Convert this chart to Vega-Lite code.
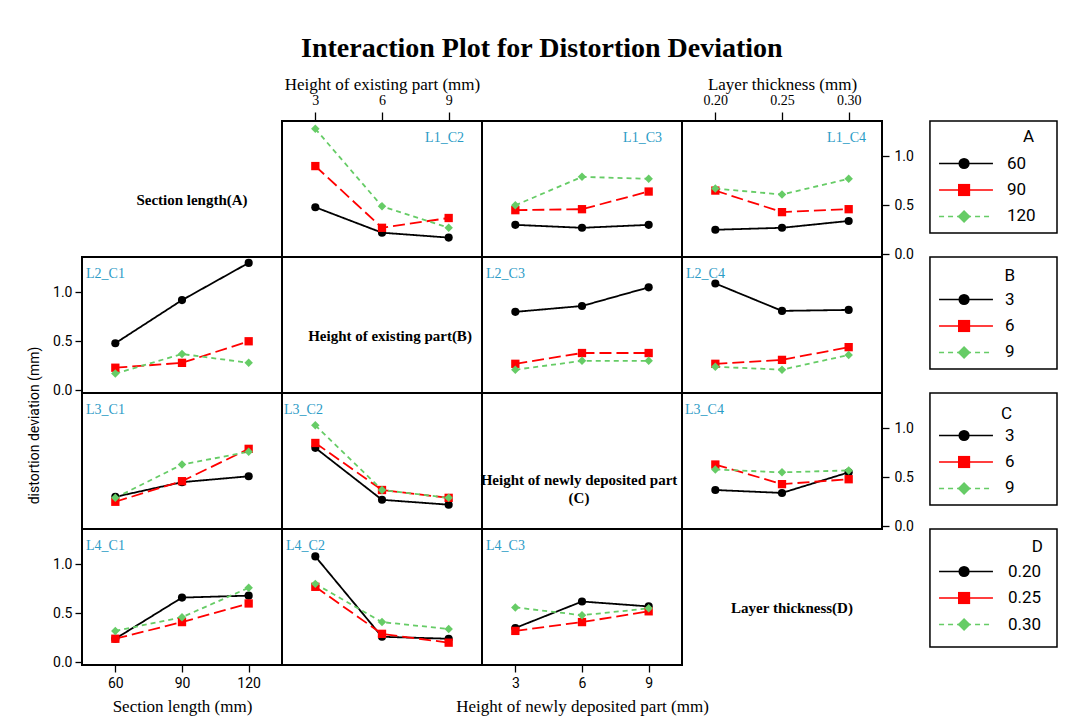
{
  "$schema": "https://vega.github.io/schema/vega-lite/v6.json",
  "padding": {"left": 26, "top": 35, "right": 10, "bottom": 4},
  "title": {"text": "Interaction Plot for Distortion Deviation", "font": "Liberation Serif", "fontSize": 28, "fontWeight": "bold", "color": "#000000", "anchor": "middle", "frame": "bounds", "offset": 11},
  "datasets": {
    "interact": [
      {"r":1,"c":2,"s":1,"x":3,"y":0.48},{"r":1,"c":2,"s":1,"x":6,"y":0.22},{"r":1,"c":2,"s":1,"x":9,"y":0.17},
      {"r":1,"c":2,"s":2,"x":3,"y":0.90},{"r":1,"c":2,"s":2,"x":6,"y":0.27},{"r":1,"c":2,"s":2,"x":9,"y":0.37},
      {"r":1,"c":2,"s":3,"x":3,"y":1.28},{"r":1,"c":2,"s":3,"x":6,"y":0.49},{"r":1,"c":2,"s":3,"x":9,"y":0.27},
      {"r":1,"c":3,"s":1,"x":3,"y":0.30},{"r":1,"c":3,"s":1,"x":6,"y":0.27},{"r":1,"c":3,"s":1,"x":9,"y":0.30},
      {"r":1,"c":3,"s":2,"x":3,"y":0.45},{"r":1,"c":3,"s":2,"x":6,"y":0.46},{"r":1,"c":3,"s":2,"x":9,"y":0.64},
      {"r":1,"c":3,"s":3,"x":3,"y":0.50},{"r":1,"c":3,"s":3,"x":6,"y":0.79},{"r":1,"c":3,"s":3,"x":9,"y":0.77},
      {"r":1,"c":4,"s":1,"x":0.20,"y":0.25},{"r":1,"c":4,"s":1,"x":0.25,"y":0.27},{"r":1,"c":4,"s":1,"x":0.30,"y":0.34},
      {"r":1,"c":4,"s":2,"x":0.20,"y":0.65},{"r":1,"c":4,"s":2,"x":0.25,"y":0.43},{"r":1,"c":4,"s":2,"x":0.30,"y":0.46},
      {"r":1,"c":4,"s":3,"x":0.20,"y":0.67},{"r":1,"c":4,"s":3,"x":0.25,"y":0.61},{"r":1,"c":4,"s":3,"x":0.30,"y":0.77},
      {"r":2,"c":1,"s":1,"x":60,"y":0.48},{"r":2,"c":1,"s":1,"x":90,"y":0.92},{"r":2,"c":1,"s":1,"x":120,"y":1.30},
      {"r":2,"c":1,"s":2,"x":60,"y":0.23},{"r":2,"c":1,"s":2,"x":90,"y":0.28},{"r":2,"c":1,"s":2,"x":120,"y":0.50},
      {"r":2,"c":1,"s":3,"x":60,"y":0.17},{"r":2,"c":1,"s":3,"x":90,"y":0.37},{"r":2,"c":1,"s":3,"x":120,"y":0.28},
      {"r":2,"c":3,"s":1,"x":3,"y":0.80},{"r":2,"c":3,"s":1,"x":6,"y":0.86},{"r":2,"c":3,"s":1,"x":9,"y":1.05},
      {"r":2,"c":3,"s":2,"x":3,"y":0.27},{"r":2,"c":3,"s":2,"x":6,"y":0.38},{"r":2,"c":3,"s":2,"x":9,"y":0.38},
      {"r":2,"c":3,"s":3,"x":3,"y":0.21},{"r":2,"c":3,"s":3,"x":6,"y":0.30},{"r":2,"c":3,"s":3,"x":9,"y":0.30},
      {"r":2,"c":4,"s":1,"x":0.20,"y":1.09},{"r":2,"c":4,"s":1,"x":0.25,"y":0.81},{"r":2,"c":4,"s":1,"x":0.30,"y":0.82},
      {"r":2,"c":4,"s":2,"x":0.20,"y":0.27},{"r":2,"c":4,"s":2,"x":0.25,"y":0.31},{"r":2,"c":4,"s":2,"x":0.30,"y":0.44},
      {"r":2,"c":4,"s":3,"x":0.20,"y":0.24},{"r":2,"c":4,"s":3,"x":0.25,"y":0.21},{"r":2,"c":4,"s":3,"x":0.30,"y":0.36},
      {"r":3,"c":1,"s":1,"x":60,"y":0.30},{"r":3,"c":1,"s":1,"x":90,"y":0.45},{"r":3,"c":1,"s":1,"x":120,"y":0.51},
      {"r":3,"c":1,"s":2,"x":60,"y":0.25},{"r":3,"c":1,"s":2,"x":90,"y":0.46},{"r":3,"c":1,"s":2,"x":120,"y":0.79},
      {"r":3,"c":1,"s":3,"x":60,"y":0.29},{"r":3,"c":1,"s":3,"x":90,"y":0.63},{"r":3,"c":1,"s":3,"x":120,"y":0.76},
      {"r":3,"c":2,"s":1,"x":3,"y":0.80},{"r":3,"c":2,"s":1,"x":6,"y":0.27},{"r":3,"c":2,"s":1,"x":9,"y":0.22},
      {"r":3,"c":2,"s":2,"x":3,"y":0.85},{"r":3,"c":2,"s":2,"x":6,"y":0.37},{"r":3,"c":2,"s":2,"x":9,"y":0.29},
      {"r":3,"c":2,"s":3,"x":3,"y":1.03},{"r":3,"c":2,"s":3,"x":6,"y":0.37},{"r":3,"c":2,"s":3,"x":9,"y":0.29},
      {"r":3,"c":4,"s":1,"x":0.20,"y":0.37},{"r":3,"c":4,"s":1,"x":0.25,"y":0.34},{"r":3,"c":4,"s":1,"x":0.30,"y":0.55},
      {"r":3,"c":4,"s":2,"x":0.20,"y":0.63},{"r":3,"c":4,"s":2,"x":0.25,"y":0.43},{"r":3,"c":4,"s":2,"x":0.30,"y":0.48},
      {"r":3,"c":4,"s":3,"x":0.20,"y":0.58},{"r":3,"c":4,"s":3,"x":0.25,"y":0.55},{"r":3,"c":4,"s":3,"x":0.30,"y":0.57},
      {"r":4,"c":1,"s":1,"x":60,"y":0.24},{"r":4,"c":1,"s":1,"x":90,"y":0.66},{"r":4,"c":1,"s":1,"x":120,"y":0.68},
      {"r":4,"c":1,"s":2,"x":60,"y":0.24},{"r":4,"c":1,"s":2,"x":90,"y":0.41},{"r":4,"c":1,"s":2,"x":120,"y":0.60},
      {"r":4,"c":1,"s":3,"x":60,"y":0.32},{"r":4,"c":1,"s":3,"x":90,"y":0.46},{"r":4,"c":1,"s":3,"x":120,"y":0.76},
      {"r":4,"c":2,"s":1,"x":3,"y":1.08},{"r":4,"c":2,"s":1,"x":6,"y":0.26},{"r":4,"c":2,"s":1,"x":9,"y":0.24},
      {"r":4,"c":2,"s":2,"x":3,"y":0.77},{"r":4,"c":2,"s":2,"x":6,"y":0.29},{"r":4,"c":2,"s":2,"x":9,"y":0.20},
      {"r":4,"c":2,"s":3,"x":3,"y":0.80},{"r":4,"c":2,"s":3,"x":6,"y":0.41},{"r":4,"c":2,"s":3,"x":9,"y":0.34},
      {"r":4,"c":3,"s":1,"x":3,"y":0.35},{"r":4,"c":3,"s":1,"x":6,"y":0.62},{"r":4,"c":3,"s":1,"x":9,"y":0.57},
      {"r":4,"c":3,"s":2,"x":3,"y":0.32},{"r":4,"c":3,"s":2,"x":6,"y":0.41},{"r":4,"c":3,"s":2,"x":9,"y":0.52},
      {"r":4,"c":3,"s":3,"x":3,"y":0.56},{"r":4,"c":3,"s":3,"x":6,"y":0.48},{"r":4,"c":3,"s":3,"x":9,"y":0.55}
    ],
    "legA": [{"s":1,"label":"60"},{"s":2,"label":"90"},{"s":3,"label":"120"}],
    "legB": [{"s":1,"label":"3"},{"s":2,"label":"6"},{"s":3,"label":"9"}],
    "legC": [{"s":1,"label":"3"},{"s":2,"label":"6"},{"s":3,"label":"9"}],
    "legD": [{"s":1,"label":"0.20"},{"s":2,"label":"0.25"},{"s":3,"label":"0.30"}]
  },
  "columns": 5,
  "spacing": 0,
  "bounds": "flush",
  "resolve": {"scale": {"x": "independent", "y": "independent", "color": "independent", "shape": "independent", "size": "independent", "strokeDash": "independent"}},
  "concat": [
    {"width":200,"height":136,"data":{"values":[{"name":"Section length(A)"}]},
     "mark":{"type":"text","font":"Liberation Serif","fontSize":15,"fontWeight":"bold","color":"#000000","dx":10,"dy":11},
     "encoding":{"text":{"field":"name"}}},
    {"width":200,"height":136,"layer":[
      {"data":{"name":"interact"},"transform":[{"filter":"datum.r === 1 && datum.c === 2"}],
       "encoding":{
         "x":{"field":"x","type":"quantitative","scale":{"domain":[1.5,10.5],"nice":false,"zero":false},"axis":{"orient":"top","values":[3,6,9],"title":"Height of existing part (mm)"}},
         "y":{"field":"y","type":"quantitative","scale":{"domain":[-0.028,1.36],"nice":false,"zero":false},"axis":null},
         "color":{"field":"s","type":"ordinal","scale":{"domain":[1,2,3],"range":["#000000","#ff0000","#66cc66"]},"legend":null}},
       "layer":[
         {"mark":{"type":"line","strokeWidth":1.8},"encoding":{"strokeDash":{"field":"s","type":"ordinal","scale":{"domain":[1,2,3],"range":[[1,0],[12,5],[5,4]]},"legend":null}}},
         {"mark":{"type":"point","filled":true,"opacity":1},"encoding":{"shape":{"field":"s","type":"ordinal","scale":{"domain":[1,2,3],"range":["circle","square","diamond"]},"legend":null},"size":{"field":"s","type":"nominal","scale":{"domain":[1,2,3],"range":[66,72,150]},"legend":null}}}
       ]},
      {"data":{"values":[{"panel":"L1_C2"}]},
       "mark":{"type":"text","align":"right","baseline":"middle","dx":-18,"dy":17,"font":"Liberation Serif","fontSize":14,"color":"#2b9bc6"},
       "encoding":{"x":{"datum":10.5,"type":"quantitative"},"y":{"datum":1.36,"type":"quantitative","axis":null},"text":{"field":"panel"}}}
    ]},
    {"width":200,"height":136,"layer":[
      {"data":{"name":"interact"},"transform":[{"filter":"datum.r === 1 && datum.c === 3"}],
       "encoding":{
         "x":{"field":"x","type":"quantitative","scale":{"domain":[1.5,10.5],"nice":false,"zero":false},"axis":null},
         "y":{"field":"y","type":"quantitative","scale":{"domain":[-0.028,1.36],"nice":false,"zero":false},"axis":null},
         "color":{"field":"s","type":"ordinal","scale":{"domain":[1,2,3],"range":["#000000","#ff0000","#66cc66"]},"legend":null}},
       "layer":[
         {"mark":{"type":"line","strokeWidth":1.8},"encoding":{"strokeDash":{"field":"s","type":"ordinal","scale":{"domain":[1,2,3],"range":[[1,0],[12,5],[5,4]]},"legend":null}}},
         {"mark":{"type":"point","filled":true,"opacity":1},"encoding":{"shape":{"field":"s","type":"ordinal","scale":{"domain":[1,2,3],"range":["circle","square","diamond"]},"legend":null},"size":{"field":"s","type":"nominal","scale":{"domain":[1,2,3],"range":[66,72,150]},"legend":null}}}
       ]},
      {"data":{"values":[{"panel":"L1_C3"}]},
       "mark":{"type":"text","align":"right","baseline":"middle","dx":-20,"dy":17,"font":"Liberation Serif","fontSize":14,"color":"#2b9bc6"},
       "encoding":{"x":{"datum":10.5,"type":"quantitative","axis":null},"y":{"datum":1.36,"type":"quantitative","axis":null},"text":{"field":"panel"}}}
    ]},
    {"width":200,"height":136,"layer":[
      {"data":{"name":"interact"},"transform":[{"filter":"datum.r === 1 && datum.c === 4"}],
       "encoding":{
         "x":{"field":"x","type":"quantitative","scale":{"domain":[0.175,0.325],"nice":false,"zero":false},"axis":{"orient":"top","values":[0.2,0.25,0.3],"format":".2f","title":"Layer thickness (mm)"}},
         "y":{"field":"y","type":"quantitative","scale":{"domain":[-0.028,1.36],"nice":false,"zero":false},"axis":{"orient":"right","values":[0,0.5,1],"format":".1f","title":null,"labelPadding":5}},
         "color":{"field":"s","type":"ordinal","scale":{"domain":[1,2,3],"range":["#000000","#ff0000","#66cc66"]},"legend":null}},
       "layer":[
         {"mark":{"type":"line","strokeWidth":1.8},"encoding":{"strokeDash":{"field":"s","type":"ordinal","scale":{"domain":[1,2,3],"range":[[1,0],[12,5],[5,4]]},"legend":null}}},
         {"mark":{"type":"point","filled":true,"opacity":1},"encoding":{"shape":{"field":"s","type":"ordinal","scale":{"domain":[1,2,3],"range":["circle","square","diamond"]},"legend":null},"size":{"field":"s","type":"nominal","scale":{"domain":[1,2,3],"range":[66,72,150]},"legend":null}}}
       ]},
      {"data":{"values":[{"panel":"L1_C4"}]},
       "mark":{"type":"text","align":"right","baseline":"middle","dx":-16,"dy":17,"font":"Liberation Serif","fontSize":14,"color":"#2b9bc6"},
       "encoding":{"x":{"datum":0.325,"type":"quantitative"},"y":{"datum":1.36,"type":"quantitative"},"text":{"field":"panel"}}}
    ]},
    {"width":175,"height":112,"view":{"stroke":null},"layer":[
      {"data":{"values":[{"t":"A"}]},"layer":[
        {"mark":{"type":"rect","filled":false,"stroke":"#000000","strokeWidth":1.5},
         "encoding":{"x":{"datum":0.274,"type":"quantitative","scale":{"domain":[0,1],"nice":false,"zero":false},"axis":null},"x2":{"datum":1},
                     "y":{"datum":-0.604,"type":"quantitative","scale":{"domain":[-0.604,3.623],"reverse":true,"nice":false,"zero":false},"axis":null},"y2":{"datum":3.623}}},
        {"mark":{"type":"text","align":"right","baseline":"middle","font":"Roboto","fontSize":17,"color":"#000000"},
         "encoding":{"x":{"datum":0.869,"type":"quantitative","axis":null},"y":{"datum":0,"type":"quantitative","axis":null},"text":{"field":"t"}}}
      ]},
      {"data":{"name":"legA"},
       "encoding":{"y":{"field":"s","type":"quantitative","axis":null},
                   "color":{"field":"s","type":"ordinal","scale":{"domain":[1,2,3],"range":["#000000","#ff0000","#66cc66"]},"legend":null}},
       "layer":[
        {"mark":{"type":"rule","strokeWidth":1.5},"encoding":{"x":{"datum":0.326,"type":"quantitative","axis":null},"x2":{"datum":0.634},"strokeDash":{"field":"s","type":"ordinal","scale":{"domain":[1,2,3],"range":[[1,0],[1,0],[5,4]]},"legend":null}}},
        {"mark":{"type":"point","filled":true,"opacity":1},"encoding":{"x":{"datum":0.469,"type":"quantitative","axis":null},"shape":{"field":"s","type":"ordinal","scale":{"domain":[1,2,3],"range":["circle","square","diamond"]},"legend":null},"size":{"field":"s","type":"nominal","scale":{"domain":[1,2,3],"range":[125,170,300]},"legend":null}}},
        {"mark":{"type":"text","align":"left","baseline":"middle","font":"Roboto","fontSize":17},"encoding":{"x":{"datum":0.714,"type":"quantitative","axis":null},"text":{"field":"label"},"color":{"value":"#000000"}}}
      ]}
    ]},

    {"width":200,"height":136,"layer":[
      {"data":{"name":"interact"},"transform":[{"filter":"datum.r === 2 && datum.c === 1"}],
       "encoding":{
         "x":{"field":"x","type":"quantitative","scale":{"domain":[45,135],"nice":false,"zero":false},"axis":null},
         "y":{"field":"y","type":"quantitative","scale":{"domain":[-0.028,1.36],"nice":false,"zero":false},"axis":{"orient":"left","values":[0,0.5,1],"format":".1f","title":"distortion deviation (mm)","titleFont":"Roboto","titleFontSize":14,"titleLimit":400,"titleX":-41,"titleY":168,"titleAngle":270,"titleAlign":"center","titleBaseline":"bottom"}},
         "color":{"field":"s","type":"ordinal","scale":{"domain":[1,2,3],"range":["#000000","#ff0000","#66cc66"]},"legend":null}},
       "layer":[
         {"mark":{"type":"line","strokeWidth":1.8},"encoding":{"strokeDash":{"field":"s","type":"ordinal","scale":{"domain":[1,2,3],"range":[[1,0],[12,5],[5,4]]},"legend":null}}},
         {"mark":{"type":"point","filled":true,"opacity":1},"encoding":{"shape":{"field":"s","type":"ordinal","scale":{"domain":[1,2,3],"range":["circle","square","diamond"]},"legend":null},"size":{"field":"s","type":"nominal","scale":{"domain":[1,2,3],"range":[66,72,150]},"legend":null}}}
       ]},
      {"data":{"values":[{"panel":"L2_C1"}]},
       "mark":{"type":"text","align":"left","baseline":"middle","dx":4,"dy":17,"font":"Liberation Serif","fontSize":14,"color":"#2b9bc6"},
       "encoding":{"x":{"datum":45,"type":"quantitative","axis":null},"y":{"datum":1.36,"type":"quantitative"},"text":{"field":"panel"}}}
    ]},
    {"width":200,"height":136,"data":{"values":[{"name":"Height of existing part(B)"}]},
     "mark":{"type":"text","font":"Liberation Serif","fontSize":15,"fontWeight":"bold","color":"#000000","dx":8,"dy":11},
     "encoding":{"text":{"field":"name"}}},
    {"width":200,"height":136,"layer":[
      {"data":{"name":"interact"},"transform":[{"filter":"datum.r === 2 && datum.c === 3"}],
       "encoding":{
         "x":{"field":"x","type":"quantitative","scale":{"domain":[1.5,10.5],"nice":false,"zero":false},"axis":null},
         "y":{"field":"y","type":"quantitative","scale":{"domain":[-0.028,1.36],"nice":false,"zero":false},"axis":null},
         "color":{"field":"s","type":"ordinal","scale":{"domain":[1,2,3],"range":["#000000","#ff0000","#66cc66"]},"legend":null}},
       "layer":[
         {"mark":{"type":"line","strokeWidth":1.8},"encoding":{"strokeDash":{"field":"s","type":"ordinal","scale":{"domain":[1,2,3],"range":[[1,0],[12,5],[5,4]]},"legend":null}}},
         {"mark":{"type":"point","filled":true,"opacity":1},"encoding":{"shape":{"field":"s","type":"ordinal","scale":{"domain":[1,2,3],"range":["circle","square","diamond"]},"legend":null},"size":{"field":"s","type":"nominal","scale":{"domain":[1,2,3],"range":[66,72,150]},"legend":null}}}
       ]},
      {"data":{"values":[{"panel":"L2_C3"}]},
       "mark":{"type":"text","align":"left","baseline":"middle","dx":4,"dy":17,"font":"Liberation Serif","fontSize":14,"color":"#2b9bc6"},
       "encoding":{"x":{"datum":1.5,"type":"quantitative","axis":null},"y":{"datum":1.36,"type":"quantitative","axis":null},"text":{"field":"panel"}}}
    ]},
    {"width":200,"height":136,"layer":[
      {"data":{"name":"interact"},"transform":[{"filter":"datum.r === 2 && datum.c === 4"}],
       "encoding":{
         "x":{"field":"x","type":"quantitative","scale":{"domain":[0.175,0.325],"nice":false,"zero":false},"axis":null},
         "y":{"field":"y","type":"quantitative","scale":{"domain":[-0.028,1.36],"nice":false,"zero":false},"axis":null},
         "color":{"field":"s","type":"ordinal","scale":{"domain":[1,2,3],"range":["#000000","#ff0000","#66cc66"]},"legend":null}},
       "layer":[
         {"mark":{"type":"line","strokeWidth":1.8},"encoding":{"strokeDash":{"field":"s","type":"ordinal","scale":{"domain":[1,2,3],"range":[[1,0],[12,5],[5,4]]},"legend":null}}},
         {"mark":{"type":"point","filled":true,"opacity":1},"encoding":{"shape":{"field":"s","type":"ordinal","scale":{"domain":[1,2,3],"range":["circle","square","diamond"]},"legend":null},"size":{"field":"s","type":"nominal","scale":{"domain":[1,2,3],"range":[66,72,150]},"legend":null}}}
       ]},
      {"data":{"values":[{"panel":"L2_C4"}]},
       "mark":{"type":"text","align":"left","baseline":"middle","dx":4,"dy":17,"font":"Liberation Serif","fontSize":14,"color":"#2b9bc6"},
       "encoding":{"x":{"datum":0.175,"type":"quantitative","axis":null},"y":{"datum":1.36,"type":"quantitative","axis":null},"text":{"field":"panel"}}}
    ]},
    {"width":175,"height":112,"view":{"stroke":null},"layer":[
      {"data":{"values":[{"t":"B"}]},"layer":[
        {"mark":{"type":"rect","filled":false,"stroke":"#000000","strokeWidth":1.5},
         "encoding":{"x":{"datum":0.274,"type":"quantitative","scale":{"domain":[0,1],"nice":false,"zero":false},"axis":null},"x2":{"datum":1},
                     "y":{"datum":-0.604,"type":"quantitative","scale":{"domain":[-0.604,3.623],"reverse":true,"nice":false,"zero":false},"axis":null},"y2":{"datum":3.623}}},
        {"mark":{"type":"text","align":"right","baseline":"middle","font":"Roboto","fontSize":17,"color":"#000000"},
         "encoding":{"x":{"datum":0.76,"type":"quantitative","axis":null},"y":{"datum":0.1,"type":"quantitative","axis":null},"text":{"field":"t"}}}
      ]},
      {"data":{"name":"legB"},
       "encoding":{"y":{"field":"s","type":"quantitative","axis":null},
                   "color":{"field":"s","type":"ordinal","scale":{"domain":[1,2,3],"range":["#000000","#ff0000","#66cc66"]},"legend":null}},
       "layer":[
        {"mark":{"type":"rule","strokeWidth":1.5},"encoding":{"x":{"datum":0.326,"type":"quantitative","axis":null},"x2":{"datum":0.634},"strokeDash":{"field":"s","type":"ordinal","scale":{"domain":[1,2,3],"range":[[1,0],[1,0],[5,4]]},"legend":null}}},
        {"mark":{"type":"point","filled":true,"opacity":1},"encoding":{"x":{"datum":0.469,"type":"quantitative","axis":null},"shape":{"field":"s","type":"ordinal","scale":{"domain":[1,2,3],"range":["circle","square","diamond"]},"legend":null},"size":{"field":"s","type":"nominal","scale":{"domain":[1,2,3],"range":[125,170,300]},"legend":null}}},
        {"mark":{"type":"text","align":"left","baseline":"middle","font":"Roboto","fontSize":17},"encoding":{"x":{"datum":0.703,"type":"quantitative","axis":null},"text":{"field":"label"},"color":{"value":"#000000"}}}
      ]}
    ]},

    {"width":200,"height":136,"layer":[
      {"data":{"name":"interact"},"transform":[{"filter":"datum.r === 3 && datum.c === 1"}],
       "encoding":{
         "x":{"field":"x","type":"quantitative","scale":{"domain":[45,135],"nice":false,"zero":false},"axis":null},
         "y":{"field":"y","type":"quantitative","scale":{"domain":[-0.028,1.36],"nice":false,"zero":false},"axis":null},
         "color":{"field":"s","type":"ordinal","scale":{"domain":[1,2,3],"range":["#000000","#ff0000","#66cc66"]},"legend":null}},
       "layer":[
         {"mark":{"type":"line","strokeWidth":1.8},"encoding":{"strokeDash":{"field":"s","type":"ordinal","scale":{"domain":[1,2,3],"range":[[1,0],[12,5],[5,4]]},"legend":null}}},
         {"mark":{"type":"point","filled":true,"opacity":1},"encoding":{"shape":{"field":"s","type":"ordinal","scale":{"domain":[1,2,3],"range":["circle","square","diamond"]},"legend":null},"size":{"field":"s","type":"nominal","scale":{"domain":[1,2,3],"range":[66,72,150]},"legend":null}}}
       ]},
      {"data":{"values":[{"panel":"L3_C1"}]},
       "mark":{"type":"text","align":"left","baseline":"middle","dx":4,"dy":17,"font":"Liberation Serif","fontSize":14,"color":"#2b9bc6"},
       "encoding":{"x":{"datum":45,"type":"quantitative","axis":null},"y":{"datum":1.36,"type":"quantitative","axis":null},"text":{"field":"panel"}}}
    ]},
    {"width":200,"height":136,"layer":[
      {"data":{"name":"interact"},"transform":[{"filter":"datum.r === 3 && datum.c === 2"}],
       "encoding":{
         "x":{"field":"x","type":"quantitative","scale":{"domain":[1.5,10.5],"nice":false,"zero":false},"axis":null},
         "y":{"field":"y","type":"quantitative","scale":{"domain":[-0.028,1.36],"nice":false,"zero":false},"axis":null},
         "color":{"field":"s","type":"ordinal","scale":{"domain":[1,2,3],"range":["#000000","#ff0000","#66cc66"]},"legend":null}},
       "layer":[
         {"mark":{"type":"line","strokeWidth":1.8},"encoding":{"strokeDash":{"field":"s","type":"ordinal","scale":{"domain":[1,2,3],"range":[[1,0],[12,5],[5,4]]},"legend":null}}},
         {"mark":{"type":"point","filled":true,"opacity":1},"encoding":{"shape":{"field":"s","type":"ordinal","scale":{"domain":[1,2,3],"range":["circle","square","diamond"]},"legend":null},"size":{"field":"s","type":"nominal","scale":{"domain":[1,2,3],"range":[66,72,150]},"legend":null}}}
       ]},
      {"data":{"values":[{"panel":"L3_C2"}]},
       "mark":{"type":"text","align":"left","baseline":"middle","dx":2,"dy":17,"font":"Liberation Serif","fontSize":14,"color":"#2b9bc6"},
       "encoding":{"x":{"datum":1.5,"type":"quantitative","axis":null},"y":{"datum":1.36,"type":"quantitative","axis":null},"text":{"field":"panel"}}}
    ]},
    {"width":200,"height":136,"data":{"values":[{"name":"Height of newly deposited part\n(C)"}]},
     "mark":{"type":"text","font":"Liberation Serif","fontSize":15,"fontWeight":"bold","color":"#000000","dx":-3,"dy":19,"lineBreak":"\n","lineHeight":18},
     "encoding":{"text":{"field":"name"}}},
    {"width":200,"height":136,"layer":[
      {"data":{"name":"interact"},"transform":[{"filter":"datum.r === 3 && datum.c === 4"}],
       "encoding":{
         "x":{"field":"x","type":"quantitative","scale":{"domain":[0.175,0.325],"nice":false,"zero":false},"axis":null},
         "y":{"field":"y","type":"quantitative","scale":{"domain":[-0.028,1.36],"nice":false,"zero":false},"axis":{"orient":"right","values":[0,0.5,1],"format":".1f","title":null,"labelPadding":5}},
         "color":{"field":"s","type":"ordinal","scale":{"domain":[1,2,3],"range":["#000000","#ff0000","#66cc66"]},"legend":null}},
       "layer":[
         {"mark":{"type":"line","strokeWidth":1.8},"encoding":{"strokeDash":{"field":"s","type":"ordinal","scale":{"domain":[1,2,3],"range":[[1,0],[12,5],[5,4]]},"legend":null}}},
         {"mark":{"type":"point","filled":true,"opacity":1},"encoding":{"shape":{"field":"s","type":"ordinal","scale":{"domain":[1,2,3],"range":["circle","square","diamond"]},"legend":null},"size":{"field":"s","type":"nominal","scale":{"domain":[1,2,3],"range":[66,72,150]},"legend":null}}}
       ]},
      {"data":{"values":[{"panel":"L3_C4"}]},
       "mark":{"type":"text","align":"left","baseline":"middle","dx":3,"dy":17,"font":"Liberation Serif","fontSize":14,"color":"#2b9bc6"},
       "encoding":{"x":{"datum":0.175,"type":"quantitative","axis":null},"y":{"datum":1.36,"type":"quantitative"},"text":{"field":"panel"}}}
    ]},
    {"width":175,"height":112,"view":{"stroke":null},"layer":[
      {"data":{"values":[{"t":"C"}]},"layer":[
        {"mark":{"type":"rect","filled":false,"stroke":"#000000","strokeWidth":1.5},
         "encoding":{"x":{"datum":0.274,"type":"quantitative","scale":{"domain":[0,1],"nice":false,"zero":false},"axis":null},"x2":{"datum":1},
                     "y":{"datum":-0.604,"type":"quantitative","scale":{"domain":[-0.604,3.623],"reverse":true,"nice":false,"zero":false},"axis":null},"y2":{"datum":3.623}}},
        {"mark":{"type":"text","align":"right","baseline":"middle","font":"Roboto","fontSize":17,"color":"#000000"},
         "encoding":{"x":{"datum":0.743,"type":"quantitative","axis":null},"y":{"datum":0.18,"type":"quantitative","axis":null},"text":{"field":"t"}}}
      ]},
      {"data":{"name":"legC"},
       "encoding":{"y":{"field":"s","type":"quantitative","axis":null},
                   "color":{"field":"s","type":"ordinal","scale":{"domain":[1,2,3],"range":["#000000","#ff0000","#66cc66"]},"legend":null}},
       "layer":[
        {"mark":{"type":"rule","strokeWidth":1.5},"encoding":{"x":{"datum":0.326,"type":"quantitative","axis":null},"x2":{"datum":0.634},"strokeDash":{"field":"s","type":"ordinal","scale":{"domain":[1,2,3],"range":[[1,0],[1,0],[5,4]]},"legend":null}}},
        {"mark":{"type":"point","filled":true,"opacity":1},"encoding":{"x":{"datum":0.469,"type":"quantitative","axis":null},"shape":{"field":"s","type":"ordinal","scale":{"domain":[1,2,3],"range":["circle","square","diamond"]},"legend":null},"size":{"field":"s","type":"nominal","scale":{"domain":[1,2,3],"range":[125,170,300]},"legend":null}}},
        {"mark":{"type":"text","align":"left","baseline":"middle","font":"Roboto","fontSize":17},"encoding":{"x":{"datum":0.703,"type":"quantitative","axis":null},"text":{"field":"label"},"color":{"value":"#000000"}}}
      ]}
    ]},

    {"width":200,"height":136,"layer":[
      {"data":{"name":"interact"},"transform":[{"filter":"datum.r === 4 && datum.c === 1"}],
       "encoding":{
         "x":{"field":"x","type":"quantitative","scale":{"domain":[45,135],"nice":false,"zero":false},"axis":{"orient":"bottom","values":[60,90,120],"title":"Section length (mm)","labelPadding":4,"titlePadding":8}},
         "y":{"field":"y","type":"quantitative","scale":{"domain":[-0.028,1.36],"nice":false,"zero":false},"axis":{"orient":"left","values":[0,0.5,1],"format":".1f","title":null}},
         "color":{"field":"s","type":"ordinal","scale":{"domain":[1,2,3],"range":["#000000","#ff0000","#66cc66"]},"legend":null}},
       "layer":[
         {"mark":{"type":"line","strokeWidth":1.8},"encoding":{"strokeDash":{"field":"s","type":"ordinal","scale":{"domain":[1,2,3],"range":[[1,0],[12,5],[5,4]]},"legend":null}}},
         {"mark":{"type":"point","filled":true,"opacity":1},"encoding":{"shape":{"field":"s","type":"ordinal","scale":{"domain":[1,2,3],"range":["circle","square","diamond"]},"legend":null},"size":{"field":"s","type":"nominal","scale":{"domain":[1,2,3],"range":[66,72,150]},"legend":null}}}
       ]},
      {"data":{"values":[{"panel":"L4_C1"}]},
       "mark":{"type":"text","align":"left","baseline":"middle","dx":4,"dy":17,"font":"Liberation Serif","fontSize":14,"color":"#2b9bc6"},
       "encoding":{"x":{"datum":45,"type":"quantitative"},"y":{"datum":1.36,"type":"quantitative"},"text":{"field":"panel"}}}
    ]},
    {"width":200,"height":136,"layer":[
      {"data":{"name":"interact"},"transform":[{"filter":"datum.r === 4 && datum.c === 2"}],
       "encoding":{
         "x":{"field":"x","type":"quantitative","scale":{"domain":[1.5,10.5],"nice":false,"zero":false},"axis":null},
         "y":{"field":"y","type":"quantitative","scale":{"domain":[-0.028,1.36],"nice":false,"zero":false},"axis":null},
         "color":{"field":"s","type":"ordinal","scale":{"domain":[1,2,3],"range":["#000000","#ff0000","#66cc66"]},"legend":null}},
       "layer":[
         {"mark":{"type":"line","strokeWidth":1.8},"encoding":{"strokeDash":{"field":"s","type":"ordinal","scale":{"domain":[1,2,3],"range":[[1,0],[12,5],[5,4]]},"legend":null}}},
         {"mark":{"type":"point","filled":true,"opacity":1},"encoding":{"shape":{"field":"s","type":"ordinal","scale":{"domain":[1,2,3],"range":["circle","square","diamond"]},"legend":null},"size":{"field":"s","type":"nominal","scale":{"domain":[1,2,3],"range":[66,72,150]},"legend":null}}}
       ]},
      {"data":{"values":[{"panel":"L4_C2"}]},
       "mark":{"type":"text","align":"left","baseline":"middle","dx":4,"dy":17,"font":"Liberation Serif","fontSize":14,"color":"#2b9bc6"},
       "encoding":{"x":{"datum":1.5,"type":"quantitative","axis":null},"y":{"datum":1.36,"type":"quantitative","axis":null},"text":{"field":"panel"}}}
    ]},
    {"width":200,"height":136,"layer":[
      {"data":{"name":"interact"},"transform":[{"filter":"datum.r === 4 && datum.c === 3"}],
       "encoding":{
         "x":{"field":"x","type":"quantitative","scale":{"domain":[1.5,10.5],"nice":false,"zero":false},"axis":{"orient":"bottom","values":[3,6,9],"title":"Height of newly deposited part (mm)","titleLimit":400,"labelPadding":4,"titlePadding":8}},
         "y":{"field":"y","type":"quantitative","scale":{"domain":[-0.028,1.36],"nice":false,"zero":false},"axis":null},
         "color":{"field":"s","type":"ordinal","scale":{"domain":[1,2,3],"range":["#000000","#ff0000","#66cc66"]},"legend":null}},
       "layer":[
         {"mark":{"type":"line","strokeWidth":1.8},"encoding":{"strokeDash":{"field":"s","type":"ordinal","scale":{"domain":[1,2,3],"range":[[1,0],[12,5],[5,4]]},"legend":null}}},
         {"mark":{"type":"point","filled":true,"opacity":1},"encoding":{"shape":{"field":"s","type":"ordinal","scale":{"domain":[1,2,3],"range":["circle","square","diamond"]},"legend":null},"size":{"field":"s","type":"nominal","scale":{"domain":[1,2,3],"range":[66,72,150]},"legend":null}}}
       ]},
      {"data":{"values":[{"panel":"L4_C3"}]},
       "mark":{"type":"text","align":"left","baseline":"middle","dx":4,"dy":17,"font":"Liberation Serif","fontSize":14,"color":"#2b9bc6"},
       "encoding":{"x":{"datum":1.5,"type":"quantitative"},"y":{"datum":1.36,"type":"quantitative","axis":null},"text":{"field":"panel"}}}
    ]},
    {"width":200,"height":136,"data":{"values":[{"name":"Layer thickness(D)"}]},
     "mark":{"type":"text","font":"Liberation Serif","fontSize":15,"fontWeight":"bold","color":"#000000","dx":10,"dy":11},
     "encoding":{"text":{"field":"name"}}},
    {"width":175,"height":118,"view":{"stroke":null},"layer":[
      {"data":{"values":[{"t":"D"}]},"layer":[
        {"mark":{"type":"rect","filled":false,"stroke":"#000000","strokeWidth":1.5},
         "encoding":{"x":{"datum":0.274,"type":"quantitative","scale":{"domain":[0,1],"nice":false,"zero":false},"axis":null},"x2":{"datum":1},
                     "y":{"datum":-0.604,"type":"quantitative","scale":{"domain":[-0.604,3.849],"reverse":true,"nice":false,"zero":false},"axis":null},"y2":{"datum":3.849}}},
        {"mark":{"type":"text","align":"right","baseline":"middle","font":"Roboto","fontSize":17,"color":"#000000"},
         "encoding":{"x":{"datum":0.92,"type":"quantitative","axis":null},"y":{"datum":0.06,"type":"quantitative","axis":null},"text":{"field":"t"}}}
      ]},
      {"data":{"name":"legD"},
       "encoding":{"y":{"field":"s","type":"quantitative","axis":null},
                   "color":{"field":"s","type":"ordinal","scale":{"domain":[1,2,3],"range":["#000000","#ff0000","#66cc66"]},"legend":null}},
       "layer":[
        {"mark":{"type":"rule","strokeWidth":1.5},"encoding":{"x":{"datum":0.326,"type":"quantitative","axis":null},"x2":{"datum":0.634},"strokeDash":{"field":"s","type":"ordinal","scale":{"domain":[1,2,3],"range":[[1,0],[1,0],[5,4]]},"legend":null}}},
        {"mark":{"type":"point","filled":true,"opacity":1},"encoding":{"x":{"datum":0.469,"type":"quantitative","axis":null},"shape":{"field":"s","type":"ordinal","scale":{"domain":[1,2,3],"range":["circle","square","diamond"]},"legend":null},"size":{"field":"s","type":"nominal","scale":{"domain":[1,2,3],"range":[125,170,300]},"legend":null}}},
        {"mark":{"type":"text","align":"left","baseline":"middle","font":"Roboto","fontSize":17},"encoding":{"x":{"datum":0.72,"type":"quantitative","axis":null},"text":{"field":"label"},"color":{"value":"#000000"}}}
      ]}
    ]}
  ],
  "config": {
    "background": "#ffffff",
    "view": {"stroke": "#000000", "strokeWidth": 2},
    "axis": {"domain": false, "grid": false, "ticks": true, "tickColor": "#000000", "tickWidth": 1.3, "tickSize": 7,
             "labelColor": "#000000", "labelFont": "Roboto", "labelFontSize": 14, "labelPadding": 3,
             "titleColor": "#000000", "titleFont": "Liberation Serif", "titleFontSize": 17, "titleFontWeight": "normal", "titlePadding": 3},
    "axisTop": {"labelFont": "Liberation Serif", "labelFontSize": 14, "tickSize": 9, "labelPadding": 5, "titlePadding": 0}
  }
}
